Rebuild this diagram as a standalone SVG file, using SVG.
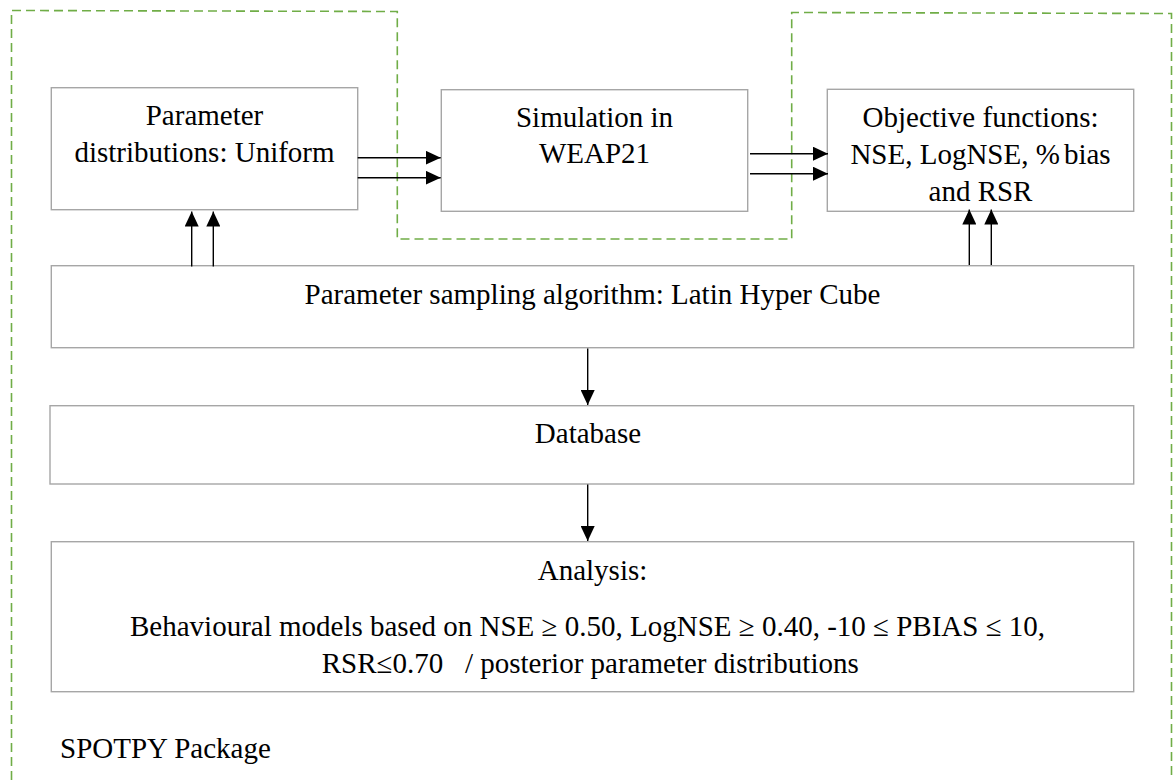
<svg xmlns="http://www.w3.org/2000/svg" width="1176" height="780" viewBox="0 0 1176 780">
  <style>
    .box { fill: #ffffff; stroke: #a6a6a6; stroke-width: 1.4; }
    .arrow { stroke: #000000; stroke-width: 1.4; fill: none; marker-end: url(#head); }
    .pkg { fill: none; stroke: #70ad47; stroke-width: 1.6; stroke-dasharray: 9 5; }
  </style>
  <defs>
    <marker id="head" viewBox="0 0 15 14" refX="15" refY="7" markerWidth="15" markerHeight="14" markerUnits="userSpaceOnUse" orient="auto">
      <path d="M0,0 L15,7 L0,14 Z" fill="#000000"/>
    </marker>
  </defs>
  <rect width="1176" height="780" fill="#ffffff"/>

  <g font-family="'Liberation Serif', 'DejaVu Serif', serif" font-size="29" fill="#000000">
  <g id="spotpy-boundary">
    <polyline class="pkg" points="11.5,780 11.5,10.5 397.3,11.5 397.3,239 791.7,239 791.7,12.5 1171.5,13.5 1171.5,780"/>
    <text x="60" y="758">SPOTPY Package</text>
  </g>

  <g id="param-dist" text-anchor="middle">
    <rect class="box" x="51.3" y="87.7" width="306.4" height="122"/>
    <text x="204.5" y="125">Parameter</text>
    <text x="204.5" y="162">distributions: Uniform</text>
  </g>

  <g id="simulation" text-anchor="middle">
    <rect class="box" x="441.3" y="89.7" width="306.4" height="121.6"/>
    <text x="594.5" y="126.7">Simulation in</text>
    <text x="594.5" y="163.3">WEAP21</text>
  </g>

  <g id="objective" text-anchor="middle">
    <rect class="box" x="827.3" y="89.3" width="306.4" height="122"/>
    <text x="980.5" y="126.7">Objective functions:</text>
    <text x="980.5" y="164.3">NSE, LogNSE, <tspan>%</tspan><tspan dx="4">bias</tspan></text>
    <text x="980.5" y="200.5">and RSR</text>
  </g>

  <g id="sampling" text-anchor="middle">
    <rect class="box" x="51.3" y="265.7" width="1082.4" height="82"/>
    <text x="592.5" y="303.5">Parameter sampling algorithm: Latin Hyper Cube</text>
  </g>

  <g id="database" text-anchor="middle">
    <rect class="box" x="50" y="405.7" width="1083.7" height="78.3"/>
    <text x="588" y="443.3">Database</text>
  </g>

  <g id="analysis">
    <rect class="box" x="51.3" y="541.7" width="1082.4" height="150"/>
    <text x="592.5" y="580" text-anchor="middle">Analysis:</text>
    <text x="130" y="636">Behavioural models based on NSE ≥ 0.50, LogNSE ≥ 0.40, -10 ≤ PBIAS ≤ 10,</text>
    <text x="321.7" y="673" xml:space="preserve">RSR≤0.70   / posterior parameter distributions</text>
  </g>
  </g>

  <g id="connectors">
    <line class="arrow" x1="357.7" y1="157.7" x2="440.7" y2="157.7"/>
    <line class="arrow" x1="357.7" y1="177.7" x2="440.7" y2="177.7"/>
    <line class="arrow" x1="750" y1="153.7" x2="828" y2="153.7"/>
    <line class="arrow" x1="750" y1="173.7" x2="828" y2="173.7"/>
    <line class="arrow" x1="191.7" y1="266.5" x2="191.7" y2="211.5"/>
    <line class="arrow" x1="213.3" y1="266.5" x2="213.3" y2="211.5"/>
    <line class="arrow" x1="969.3" y1="265" x2="969.3" y2="209.5"/>
    <line class="arrow" x1="991.3" y1="265" x2="991.3" y2="209.5"/>
    <line class="arrow" x1="587.7" y1="348.5" x2="587.7" y2="405"/>
    <line class="arrow" x1="587.7" y1="484.5" x2="587.7" y2="541"/>
  </g>
</svg>
